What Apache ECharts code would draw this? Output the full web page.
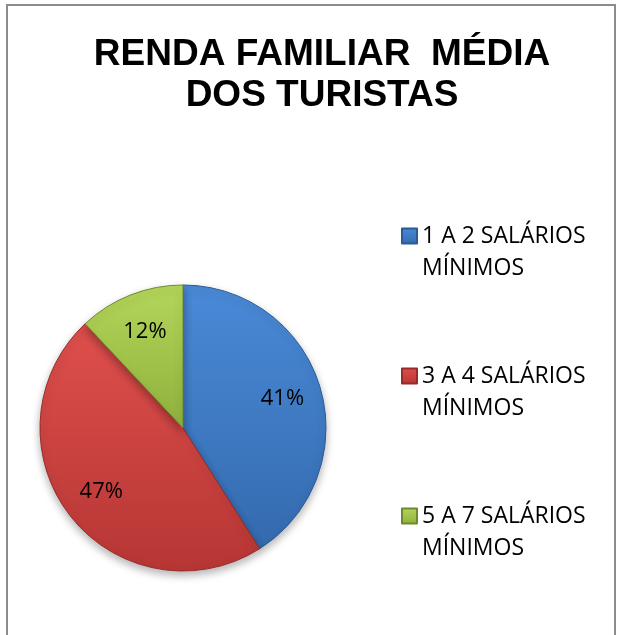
<!DOCTYPE html>
<html>
<head>
<meta charset="utf-8">
<script src="https://cdn.jsdelivr.net/npm/echarts@6/dist/echarts.min.js"></script>
<style>
  html, body { margin: 0; padding: 0; background: #fff; }
  #chart { width: 621px; height: 635px; }
</style>
</head>
<body>
<div id="chart"></div>
<script>
const titleText = 'RENDA FAMILIAR  MÉDIA\nDOS TURISTAS';
const categories = ['1 A 2 SALÁRIOS MÍNIMOS', '3 A 4 SALÁRIOS MÍNIMOS', '5 A 7 SALÁRIOS MÍNIMOS'];
const values = [41, 47, 12];
const labels = ['41%', '47%', '12%'];

// office-like bevel shades: [light, dark, border]
const shades = [
  ['#4a8ad8', '#346aae', '#2b5a94'],
  ['#de4f4c', '#b63634', '#962b29'],
  ['#b4d65a', '#8fb03c', '#6f8a2c']
];

function grad(s) {
  return new echarts.graphic.LinearGradient(0, 0, 0, 1, [
    { offset: 0, color: s[0] },
    { offset: 1, color: s[1] }
  ]);
}

const chart = echarts.init(document.getElementById('chart'));

const pieData = categories.map((name, i) => ({
  name: name,
  value: values[i],
  itemStyle: { color: grad(shades[i]), borderColor: shades[i][2] }
}));

const labelData = categories.map((name, i) => ({
  name: name,
  value: values[i],
  label: { formatter: labels[i] }
}));

chart.setOption({
  animation: false,
  title: {
    text: titleText,
    left: 317,
    textAlign: 'center',
    top: 29,
    textStyle: {
      fontFamily: 'Liberation Sans',
      fontWeight: 'bold',
      fontSize: 37,
      lineHeight: 41,
      color: '#000'
    }
  },
  legend: {
    orient: 'vertical',
    left: 396,
    top: 183,
    itemWidth: 15,
    itemHeight: 15,
    itemGap: 44,
    icon: 'rect',
    data: categories,
    // blank first line keeps the marker level with the first text line
    formatter: function (name) {
      const cut = name.lastIndexOf(' ');
      return '\n' + name.slice(0, cut) + '\n' + name.slice(cut + 1);
    },
    textStyle: {
      fontFamily: 'Open Sans',
      fontSize: 23,
      lineHeight: 32,
      color: '#000'
    }
  },
  graphic: [
    {
      type: 'polyline',
      shape: { points: [[7, 640], [7, 5], [615, 5], [615, 640]] },
      style: { stroke: '#8c8c8c', lineWidth: 2, fill: null },
      silent: true
    }
  ],
  series: [
    {
      type: 'pie',
      center: [183, 428],
      radius: 143,
      startAngle: 90,
      clockwise: true,
      label: { show: false },
      labelLine: { show: false },
      itemStyle: {
        borderWidth: 1,
        shadowBlur: 8,
        shadowOffsetY: 4,
        shadowColor: 'rgba(0,0,0,0.3)'
      },
      emphasis: { disabled: true },
      data: pieData
    },
    {
      type: 'pie',
      center: [183, 428],
      radius: [58, 143],
      startAngle: 90,
      clockwise: true,
      silent: true,
      legendHoverLink: false,
      itemStyle: { color: 'rgba(0,0,0,0)' },
      label: {
        show: true,
        position: 'inside',
        fontFamily: 'Open Sans',
        fontSize: 22,
        color: '#000'
      },
      labelLine: { show: false },
      emphasis: { disabled: true },
      data: labelData
    }
  ]
});
</script>
</body>
</html>
